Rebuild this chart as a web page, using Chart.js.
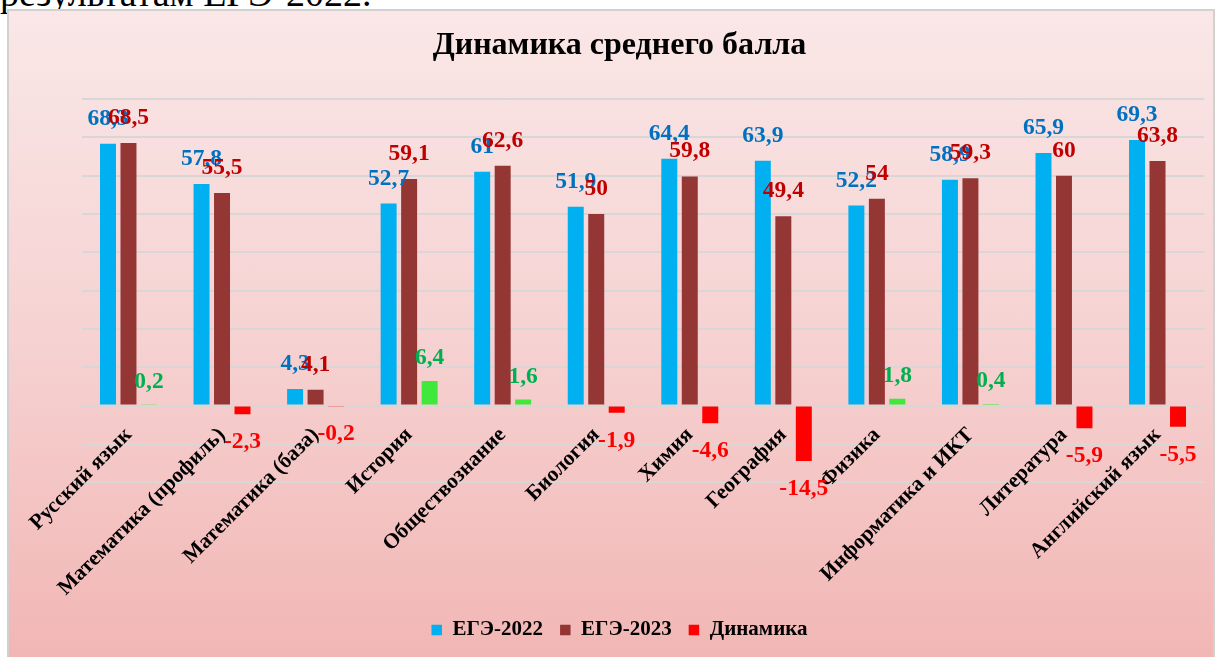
<!DOCTYPE html>
<html lang="ru">
<head>
<meta charset="utf-8">
<title>Динамика среднего балла</title>
<script src="https://cdn.jsdelivr.net/npm/chart.js"></script>
<style>
    html, body { margin: 0; padding: 0; background: #fff; }
    body { width: 1223px; height: 657px; overflow: hidden; position: relative; }
    #pageText {
        position: absolute; left: 0; top: -26px;
        font: 38px/38px "Liberation Serif", serif; color: #000; white-space: nowrap;
    }
    #frame {
        position: absolute; left: 7px; top: 9px;
        width: 1204px; height: 650px;
        border: 2px solid #d3d0d0;
        background: linear-gradient(to bottom, #fae7e7 0%, #f6d2d2 50%, #f1b6b4 100%);
    }
    #box { position: relative; width: 1204px; height: 646px; }
</style>
</head>
<body>
<div id="pageText">результатам ЕГЭ-2022.</div>
<div id="frame">
    <div id="box"><canvas id="canvas"></canvas></div>
</div>
<script>
"use strict"
const categories = ["Русский язык", "Математика (профиль)", "Математика (база)", "История", "Обществознание",
    "Биология", "Химия", "География", "Физика", "Информатика и ИКТ", "Литература", "Английский язык"];
const ege2022 = [68.3, 57.8, 4.3, 52.7, 61, 51.9, 64.4, 63.9, 52.2, 58.9, 65.9, 69.3];
const ege2023 = [68.5, 55.5, 4.1, 59.1, 62.6, 50, 59.8, 49.4, 54, 59.3, 60, 63.8];
const dinamika = [0.2, -2.3, -0.2, 6.4, 1.6, -1.9, -4.6, -14.5, 1.8, 0.4, -5.9, -5.5];
const yMin = -20, yMax = 80, yStep = 10;

const serif = "'Liberation Serif', 'Times New Roman', serif";
const labelColors = ["#0070c0", "#c00000"]; // подписи значений
const legendColors = ["#00b0f0", "#943634", "#ff0000"];

// подписи над/под столбцами (вместо плагина datalabels)
const valueLabels = {
    id: "valueLabels",
    afterDatasetsDraw(chart) {
        const ctx = chart.ctx;
        ctx.save();
        ctx.font = "bold 23.5px " + serif;
        ctx.textAlign = "center";
        ctx.textBaseline = "middle";
        chart.data.datasets.forEach((ds, i) => {
            chart.getDatasetMeta(i).data.forEach((bar, j) => {
                const v = ds.data[j];
                let color = labelColors[i];
                if (i === 2) color = v < 0 ? "#ff0000" : "#00b050";
                const dy = v < 0 ? 28 : (i === 2 ? -23 : -25);
                ctx.fillStyle = color;
                ctx.fillText(String(v).replace(".", ","), bar.x, bar.y + dy);
            });
        });
        ctx.restore();
    }
};

let chartOptions = {
    type: "bar",
    data: {
        labels: categories,
        datasets: [
            { label: "ЕГЭ-2022", data: ege2022, backgroundColor: "#00b0f0" },
            { label: "ЕГЭ-2023", data: ege2023, backgroundColor: "#943634" },
            { label: "Динамика", data: dinamika,
              backgroundColor: dinamika.map(v => v < 0 ? "#ff0000" : "#3fe83a") }
        ]
    },
    options: {
        responsive: true,
        maintainAspectRatio: false,
        animation: false,
        datasets: { bar: { barPercentage: 0.78, categoryPercentage: 0.657 } },
        layout: { padding: { left: 25.7, right: 8.7, top: 0, bottom: 6.5 } },
        scales: {
            x: {
                position: { y: 0 }, // ось категорий проходит через ноль, как в Excel
                grid: { display: false, drawTicks: false },
                border: { display: false },
                ticks: {
                    autoSkip: false, minRotation: 45, maxRotation: 45, padding: 17,
                    color: "#000", font: { family: serif, size: 21.5, weight: "bold" }
                }
            },
            // пустая ось снизу - только чтобы оставить место под подписи категорий
            xSpace: {
                type: "category", axis: "x", position: "bottom",
                grid: { display: false, drawTicks: false },
                border: { display: false },
                ticks: { display: false },
                afterFit(scale) { scale.height = 120.3; }
            },
            y: {
                min: yMin, max: yMax,
                grid: { color: "#d9d6d6", lineWidth: 2, drawTicks: false },
                border: { display: false },
                ticks: { display: false, stepSize: yStep },
                afterFit(scale) { scale.width = 47; }
            }
        },
        plugins: {
            title: {
                display: true,
                text: "Динамика среднего балла",
                color: "#000",
                font: { family: serif, size: 32, weight: "bold" },
                padding: { top: 15.7, bottom: 33.9 }
            },
            legend: {
                position: "bottom",
                labels: {
                    color: "#000",
                    boxWidth: 10.5, boxHeight: 10.5, padding: 17,
                    font: { family: serif, size: 21, weight: "bold" },
                    generateLabels(chart) {
                        const items = Chart.defaults.plugins.legend.labels.generateLabels(chart);
                        items.forEach((it, i) => {
                            it.fillStyle = legendColors[i];
                            it.strokeStyle = legendColors[i];
                            it.lineWidth = 0;
                        });
                        return items;
                    }
                }
            },
            tooltip: { enabled: false }
        }
    },
    plugins: [valueLabels]
};

window.addEventListener("DOMContentLoaded", function () {
    let canvas = document.getElementById("canvas");
    let chart = new Chart(canvas, chartOptions);
});
</script>
</body>
</html>
